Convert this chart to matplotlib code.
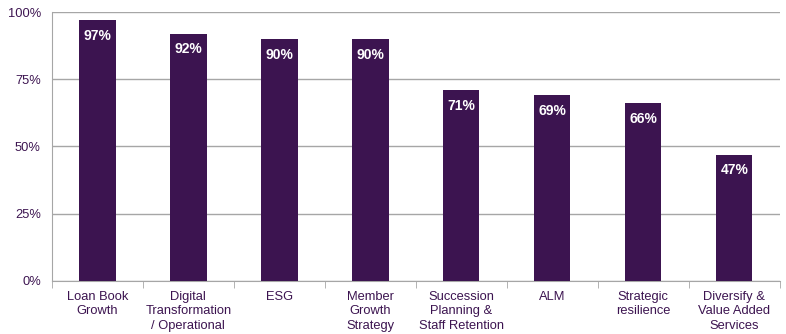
import matplotlib
matplotlib.use('Agg')
import matplotlib.pyplot as plt
from matplotlib.ticker import PercentFormatter, FixedLocator
import numpy as np

plt.rcParams['font.family'] = ['Liberation Sans', 'DejaVu Sans']

categories = ['Loan Book\nGrowth', 'Digital\nTransformation\n/ Operational', 'ESG',
              'Member\nGrowth\nStrategy', 'Succession\nPlanning &\nStaff Retention',
              'ALM', 'Strategic\nresilience', 'Diversify &\nValue Added\nServices']
values = [97, 92, 90, 90, 71, 69, 66, 47]

purple = '#3c1450'
grid = '#a6a6a6'

fig = plt.figure(figsize=(7.86, 3.34), dpi=100)
ax = fig.add_axes([0.066, 0.159, 0.926, 0.805])

x = np.arange(len(categories))
ax.bar(x, values, width=0.4, color=purple, zorder=3)
for xi, v in zip(x, values):
    ax.text(xi, v - 3.2, f'{v}%', ha='center', va='top', color='white',
            fontsize=10, fontweight='bold', zorder=4)

ax.set_xlim(-0.5, len(categories) - 0.5)
ax.set_ylim(0, 100)
ax.set_yticks([0, 25, 50, 75, 100])
ax.yaxis.set_major_formatter(PercentFormatter(decimals=0))
ax.yaxis.grid(True, color=grid, linewidth=1, zorder=0)

ax.set_xticks(x)
ax.set_xticklabels(categories, color=purple, fontsize=9.3, linespacing=1.3)
ax.xaxis.set_minor_locator(FixedLocator(np.arange(-0.5, len(categories), 1)))
ax.tick_params(axis='x', which='major', length=0, pad=7)
ax.tick_params(axis='x', which='minor', length=5, color=grid, direction='out')
ax.tick_params(axis='y', length=0, labelcolor=purple, labelsize=9.3, pad=8)

for side in ['top', 'right']:
    ax.spines[side].set_visible(False)
ax.spines['left'].set_color(grid)
ax.spines['bottom'].set_color(grid)

fig.savefig('out.png', dpi=100)
